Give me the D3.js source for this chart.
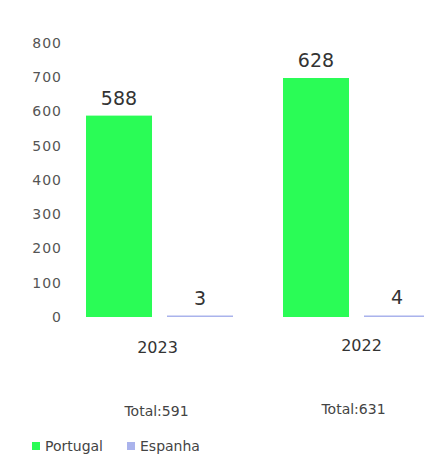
<!DOCTYPE html>
<html>
<head>
<meta charset="utf-8">
<script src="https://cdn.jsdelivr.net/npm/d3@7"></script>
<style>
  html, body { margin: 0; padding: 0; background: #fff; }
  svg { display: block; font-family: "DejaVu Sans", sans-serif; }
</style>
</head>
<body>
<svg id="chart" width="424" height="455"></svg>
<script>
// ---- data ----
const years = ["2023", "2022"];
const series = ["Portugal", "Espanha"];
const portugal = [588, 628];
const espanha = [3, 4];
const totals = ["Total:591", "Total:631"];
const yTicks = [0, 100, 200, 300, 400, 500, 600, 700, 800];
const panelMax = [800, 720];   // each year panel has its own value scale
const colors = { Portugal: "#2afc56", Espanha: "#aab3ec" };

// ---- layout ----
const svg = d3.select("#chart");
const baseY = 317, topY = 43;

const x0 = d3.scaleBand().domain(years).range([86, 430]).paddingInner(0.2538).paddingOuter(0);
const x1 = d3.scaleBand().domain(series).range([0, x0.bandwidth()]).paddingInner(0.185).paddingOuter(0);
const yScales = panelMax.map(m => d3.scaleLinear().domain([0, m]).range([baseY, topY]));

// y axis (first panel)
const yAxis = d3.axisLeft(yScales[0]).tickValues(yTicks).tickSize(0).tickPadding(0);
const ya = svg.append("g").attr("transform", "translate(62,0)").call(yAxis);
ya.select(".domain").remove();
ya.selectAll("text")
  .attr("fill", "#555")
  .style("font-size", "14px")
  .style("letter-spacing", "1px")
  .style("font-family", "DejaVu Sans, sans-serif");

// bars
const rows = years.map((yr, i) => ({
  year: yr, idx: i,
  vals: [{ key: "Portugal", v: portugal[i] }, { key: "Espanha", v: espanha[i] }]
}));

const g = svg.selectAll("g.year").data(rows).join("g")
  .attr("class", "year")
  .attr("transform", d => `translate(${x0(d.year)},0)`);

g.selectAll("rect").data(d => d.vals.map(v => ({ ...v, idx: d.idx }))).join("rect")
  .attr("x", d => x1(d.key))
  .attr("width", x1.bandwidth())
  .attr("y", d => Math.min(yScales[d.idx](d.v), baseY - 1.5))
  .attr("height", d => Math.max(baseY - yScales[d.idx](d.v), 1.5))
  .attr("fill", d => colors[d.key]);

g.selectAll("text.val").data(d => d.vals.map(v => ({ ...v, idx: d.idx }))).join("text")
  .attr("class", "val")
  .attr("x", d => x1(d.key) + x1.bandwidth() / 2)
  .attr("y", d => Math.min(yScales[d.idx](d.v), baseY - 1.5) - 11)
  .attr("text-anchor", "middle")
  .attr("fill", "#333")
  .style("font-size", "19px")
  .text(d => d.v);

// year labels
svg.selectAll("text.yearlab").data(years).join("text")
  .attr("class", "yearlab")
  .attr("x", (d, i) => x0(d) + x0.bandwidth() / 2 + (i === 0 ? -2 : 5))
  .attr("y", (d, i) => i === 0 ? 353 : 351)
  .attr("text-anchor", "middle")
  .attr("fill", "#333")
  .style("font-size", "16px")
  .text(d => d);

// totals
svg.selectAll("text.total").data(totals).join("text")
  .attr("class", "total")
  .attr("x", (d, i) => x0(years[i]) + x0.bandwidth() / 2 - 3)
  .attr("y", (d, i) => i === 0 ? 416 : 414)
  .attr("text-anchor", "middle")
  .attr("fill", "#444")
  .style("font-size", "14px")
  .text(d => d);

// legend
const leg = svg.append("g").attr("transform", "translate(32,442)");
const items = leg.selectAll("g").data(series).join("g")
  .attr("transform", (d, i) => `translate(${i * 95},0)`);
items.append("rect").attr("width", 8).attr("height", 8).attr("fill", d => colors[d]);
items.append("text")
  .attr("x", 13).attr("y", 8.5)
  .attr("fill", "#444")
  .style("font-size", "14px")
  .text(d => d);
</script>
</body>
</html>
